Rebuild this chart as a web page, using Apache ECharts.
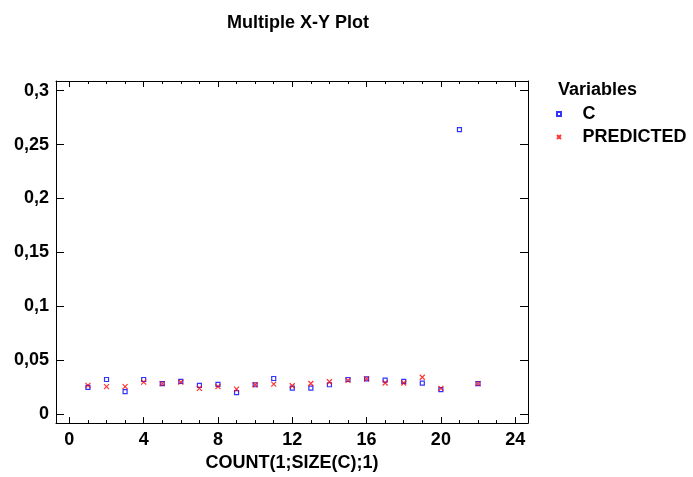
<!DOCTYPE html>
<html>
<head>
<meta charset="utf-8">
<script src="https://cdn.jsdelivr.net/npm/echarts@6/dist/echarts.min.js"></script>
<style>html,body{margin:0;padding:0;background:#fff}#c{width:693px;height:477px}</style>
</head>
<body>
<div id="c"></div>
<script>
var xCount = [1,2,3,4,5,6,7,8,9,10,11,12,13,14,15,16,17,18,19,20,21,22];
var cValues = [0.0246,0.0319,0.0206,0.0319,0.0280,0.0301,0.0264,0.0273,0.0197,0.0270,0.0328,0.0239,0.0239,0.0270,0.0319,0.0325,0.0313,0.0301,0.0286,0.0224,0.2638,0.0280];
var predValues = [0.0264,0.0252,0.0252,0.0294,0.0280,0.0294,0.0236,0.0252,0.0230,0.0270,0.0276,0.0261,0.0282,0.0298,0.0310,0.0325,0.0286,0.0286,0.0340,0.0236,null,0.0280];
var xTicks = [0,4,8,12,16,20,24];
var xMinorTicks = [0,1,2,3,4,5,6,7,8,9,10,11,12,13,14,15,16,17,18,19,20,21,22,23,24];
var yTicks = [0,0.05,0.1,0.15,0.2,0.25,0.3];

var FONT = '"Liberation Sans", Arial, sans-serif';
var FS = 18;
var X_MIN = -0.72, X_MAX = 24.69, Y_MIN = -0.0086, Y_MAX = 0.309;
var SQUARE = 'path://M0,0L10,0L10,10L0,10Z';
var CROSS = 'path://M0,0L10,10M10,0L0,10';

function pairs(ys){ var out=[]; for(var i=0;i<xCount.length;i++){ if(ys[i]!=null) out.push([xCount[i], ys[i]]); } return out; }
function fmt(v){ return String(Math.round(v*1000)/1000).replace('.', ','); }

function xAx(pos, ticks, len, showLabel, showLine){
  return {
    type:'value', position:pos, min:X_MIN, max:X_MAX,
    axisLine:{show:showLine, onZero:false, lineStyle:{color:'#000', width:1}},
    axisTick:{show:true, inside:true, length:len, customValues:ticks, lineStyle:{color:'#000', width:1}},
    axisLabel:{show:showLabel, customValues:xTicks, color:'#000', fontFamily:FONT, fontWeight:'bold', fontSize:FS, margin:8},
    splitLine:{show:false}
  };
}
function yAx(pos, showLabel){
  return {
    type:'value', position:pos, min:Y_MIN, max:Y_MAX,
    axisLine:{show:true, onZero:false, lineStyle:{color:'#000', width:1}},
    axisTick:{show:true, inside:true, length:8, customValues:yTicks, lineStyle:{color:'#000', width:1}},
    axisLabel:{show:showLabel, customValues:yTicks, formatter:fmt, color:'#000', fontFamily:FONT, fontWeight:'bold', fontSize:FS, margin:7},
    splitLine:{show:false}
  };
}

var chart = echarts.init(document.getElementById('c'), null, {renderer:'canvas'});
var bottomMain = xAx('bottom', xTicks, 6, true, true);
bottomMain.name = 'COUNT(1;SIZE(C);1)';
bottomMain.nameLocation = 'middle';
bottomMain.nameGap = 28;
bottomMain.nameTextStyle = {color:'#000', fontFamily:FONT, fontWeight:'bold', fontSize:FS};

chart.setOption({
  backgroundColor:'#fff',
  animation:false,
  title:{text:'Multiple X-Y Plot', left:293, textAlign:'center', top:9,
    textStyle:{color:'#000', fontFamily:FONT, fontWeight:'bold', fontSize:FS}},
  grid:{left:56, top:81, right:165, bottom:51, containLabel:false},
  xAxis:[
    bottomMain,
    xAx('bottom', xMinorTicks, 3, false, false),
    xAx('top', xTicks, 6, false, true),
    xAx('top', xMinorTicks, 3, false, false)
  ],
  yAxis:[ yAx('left', true), yAx('right', false) ],
  legend:{
    orient:'vertical', left:551, top:100, itemWidth:37, itemHeight:4, itemGap:5,
    symbolKeepAspect:true,
    textStyle:{color:'#000', fontFamily:FONT, fontWeight:'bold', fontSize:FS, lineHeight:18},
    data:[{name:'C', icon:SQUARE},{name:'PREDICTED', icon:CROSS}]
  },
  graphic:[{type:'text', left:558, top:81, style:{text:'Variables', fill:'#000', font:'bold ' + FS + 'px ' + FONT}}],
  series:[
    {name:'C', type:'scatter', xAxisIndex:0, yAxisIndex:0, data:pairs(cValues),
     symbol:SQUARE, symbolSize:4,
     itemStyle:{color:'rgba(0,0,0,0)', borderColor:'#0000ff', borderWidth:1.2}},
    {name:'PREDICTED', type:'scatter', xAxisIndex:0, yAxisIndex:0, data:pairs(predValues),
     symbol:CROSS, symbolSize:5,
     itemStyle:{color:'rgba(0,0,0,0)', borderColor:'#ff0000', borderWidth:1.2}}
  ]
});
</script>
</body>
</html>
